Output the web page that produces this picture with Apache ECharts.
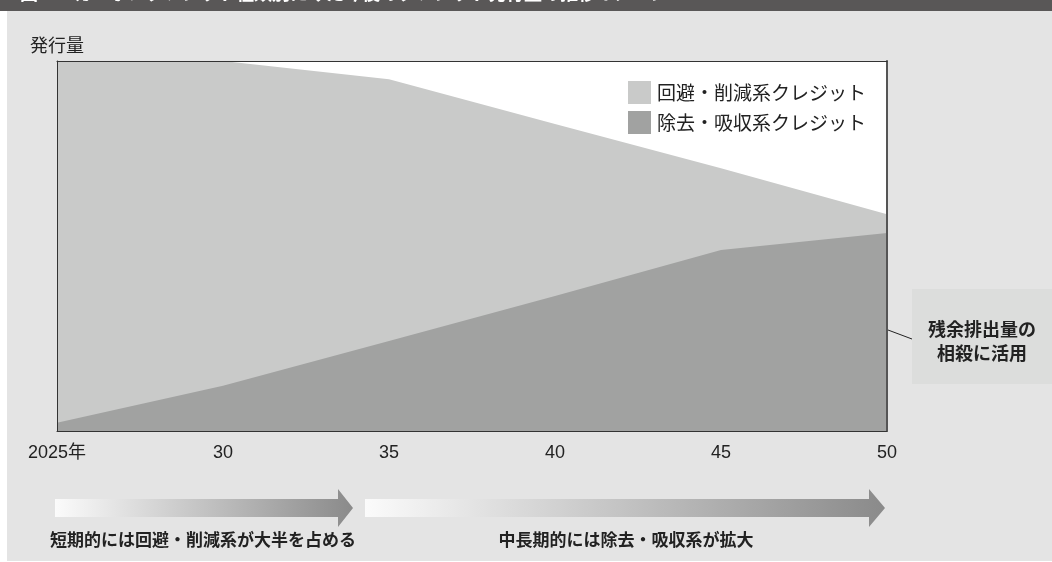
<!DOCTYPE html>
<html>
<head>
<meta charset="utf-8">
<script src="https://cdn.jsdelivr.net/npm/echarts@6/dist/echarts.min.js"></script>
<style>
html,body{margin:0;padding:0;background:#fff;}
#c{width:1052px;height:562px;}
</style>
</head>
<body>
<div id="c"></div>
<script>
// ---- data ----
const years = [2025, 2030, 2035, 2040, 2045, 2050];
const removal = [2.2, 12.2, 24.3, 36.5, 48.9, 53.5];      // 除去・吸収系クレジット
const avoidance = [97.8, 87.8, 70.8, 46.5, 22.1, 5.1];     // 回避・削減系クレジット (on top of removal)
const seriesNames = ['回避・削減系クレジット', '除去・吸収系クレジット'];
const tickLabels = {2025: '2025年', 2030: '30', 2035: '35', 2040: '40', 2045: '45', 2050: '50'};
const titleText = '図２　カーボンクレジット種類別にみた今後のクレジット発行量の推移イメージ';
const yAxisName = '発行量';
const noteLines = ['残余排出量の', '相殺に活用'];
const arrowTexts = ['短期的には回避・削減系が大半を占める', '中長期的には除去・吸収系が拡大'];

const total = removal.map((v, i) => v + avoidance[i]);

const FONT = '"Noto Sans CJK JP", "Noto Sans", sans-serif';
const NUMFONT = '"Liberation Sans", "Noto Sans CJK JP", sans-serif';
const chart = echarts.init(document.getElementById('c'), null, {renderer: 'canvas'});

function grad() {
  return new echarts.graphic.LinearGradient(0, 0, 1, 0, [
    {offset: 0, color: '#fbfbfb'},
    {offset: 1, color: '#8a8a8a'}
  ]);
}
function arrowPts(x0, x1, headX, yTop, yBot, hTop, hBot) {
  const ym = (yTop + yBot) / 2;
  return [[x0, yTop], [headX, yTop], [headX, hTop], [x1, ym], [headX, hBot], [headX, yBot], [x0, yBot]];
}

const LIGHT = '#c9cac9', DARK = '#a1a2a1';

const option = {
  backgroundColor: '#ffffff',
  animation: false,
  textStyle: {fontFamily: FONT},
  grid: {left: 57, right: 165, top: 61, bottom: 131, show: true, backgroundColor: '#ffffff', borderWidth: 0},
  legend: {
    data: [
      {name: seriesNames[0], icon: 'rect', itemStyle: {color: LIGHT}},
      {name: seriesNames[1], icon: 'rect', itemStyle: {color: DARK}}
    ],
    orient: 'vertical',
    left: 623, top: 76,
    itemWidth: 23, itemHeight: 23, itemGap: 7,
    selectedMode: false,
    textStyle: {fontSize: 19, color: '#222', fontFamily: FONT, padding: [0, 0, 0, 1]}
  },
  xAxis: [{
    type: 'value', min: 2025, max: 2050, interval: 5, z: 10,
    axisLine: {show: true, onZero: false, lineStyle: {color: '#333', width: 1}},
    axisTick: {show: false},
    splitLine: {show: false},
    axisLabel: {formatter: v => tickLabels[v] || '', fontSize: 18, color: '#222', margin: 13, fontFamily: NUMFONT}
  }, {
    type: 'value', min: 2025, max: 2050, position: 'top', z: 10,
    axisLine: {show: true, onZero: false, lineStyle: {color: '#333', width: 1}},
    axisTick: {show: false}, axisLabel: {show: false}, splitLine: {show: false}
  }],
  yAxis: [{
    type: 'value', min: 0, max: 100, z: 10,
    axisLine: {show: true, onZero: false, lineStyle: {color: '#333', width: 1}},
    axisTick: {show: false}, axisLabel: {show: false}, splitLine: {show: false}
  }, {
    type: 'value', min: 0, max: 100, position: 'right', z: 10,
    axisLine: {show: true, onZero: false, lineStyle: {color: '#555', width: 2}},
    axisTick: {show: false}, axisLabel: {show: false}, splitLine: {show: false}
  }],
  series: [{
    name: seriesNames[0], type: 'line', z: 2,
    data: years.map((y, i) => [y, total[i]]),
    showSymbol: false, symbol: 'none',
    lineStyle: {width: 0}, itemStyle: {color: LIGHT},
    areaStyle: {color: LIGHT, opacity: 1}
  }, {
    name: seriesNames[1], type: 'line', z: 3,
    data: years.map((y, i) => [y, removal[i]]),
    showSymbol: false, symbol: 'none',
    lineStyle: {width: 0}, itemStyle: {color: DARK},
    areaStyle: {color: DARK, opacity: 1}
  }],
  graphic: [
    {type: 'rect', z: -10, shape: {x: 7, y: 0, width: 1045, height: 561}, style: {fill: '#e4e4e4'}},
    {type: 'rect', z: -9, shape: {x: 0, y: 0, width: 1052, height: 11}, style: {fill: '#595757'}},
    {type: 'text', z: -8, x: 20, y: 2, style: {text: titleText, fill: '#fff', font: 'bold 18px ' + FONT, textVerticalAlign: 'bottom'}},
    {type: 'text', x: 30, y: 45, style: {text: yAxisName, fill: '#222', font: '18px ' + FONT, textVerticalAlign: 'middle'}},
    {type: 'rect', shape: {x: 912, y: 289, width: 140, height: 95}, style: {fill: '#dcdddc'}},
    {type: 'line', shape: {x1: 888, y1: 330, x2: 912, y2: 339}, style: {stroke: '#222', lineWidth: 1}},
    {type: 'text', x: 982, y: 329, style: {text: noteLines[0], fill: '#222', font: 'bold 18px ' + FONT, textAlign: 'center', textVerticalAlign: 'middle'}},
    {type: 'text', x: 982, y: 353, style: {text: noteLines[1], fill: '#222', font: 'bold 18px ' + FONT, textAlign: 'center', textVerticalAlign: 'middle'}},
    {type: 'polygon', shape: {points: arrowPts(55, 353, 338, 499, 517, 489, 527)}, style: {fill: grad()}},
    {type: 'polygon', shape: {points: arrowPts(365, 885, 869, 499, 517, 489, 527)}, style: {fill: grad()}},
    {type: 'text', x: 203, y: 540, style: {text: arrowTexts[0], fill: '#222', font: 'bold 17px ' + FONT, textAlign: 'center', textVerticalAlign: 'middle'}},
    {type: 'text', x: 626, y: 540, style: {text: arrowTexts[1], fill: '#222', font: 'bold 17px ' + FONT, textAlign: 'center', textVerticalAlign: 'middle'}}
  ]
};
chart.setOption(option);
</script>
</body>
</html>
